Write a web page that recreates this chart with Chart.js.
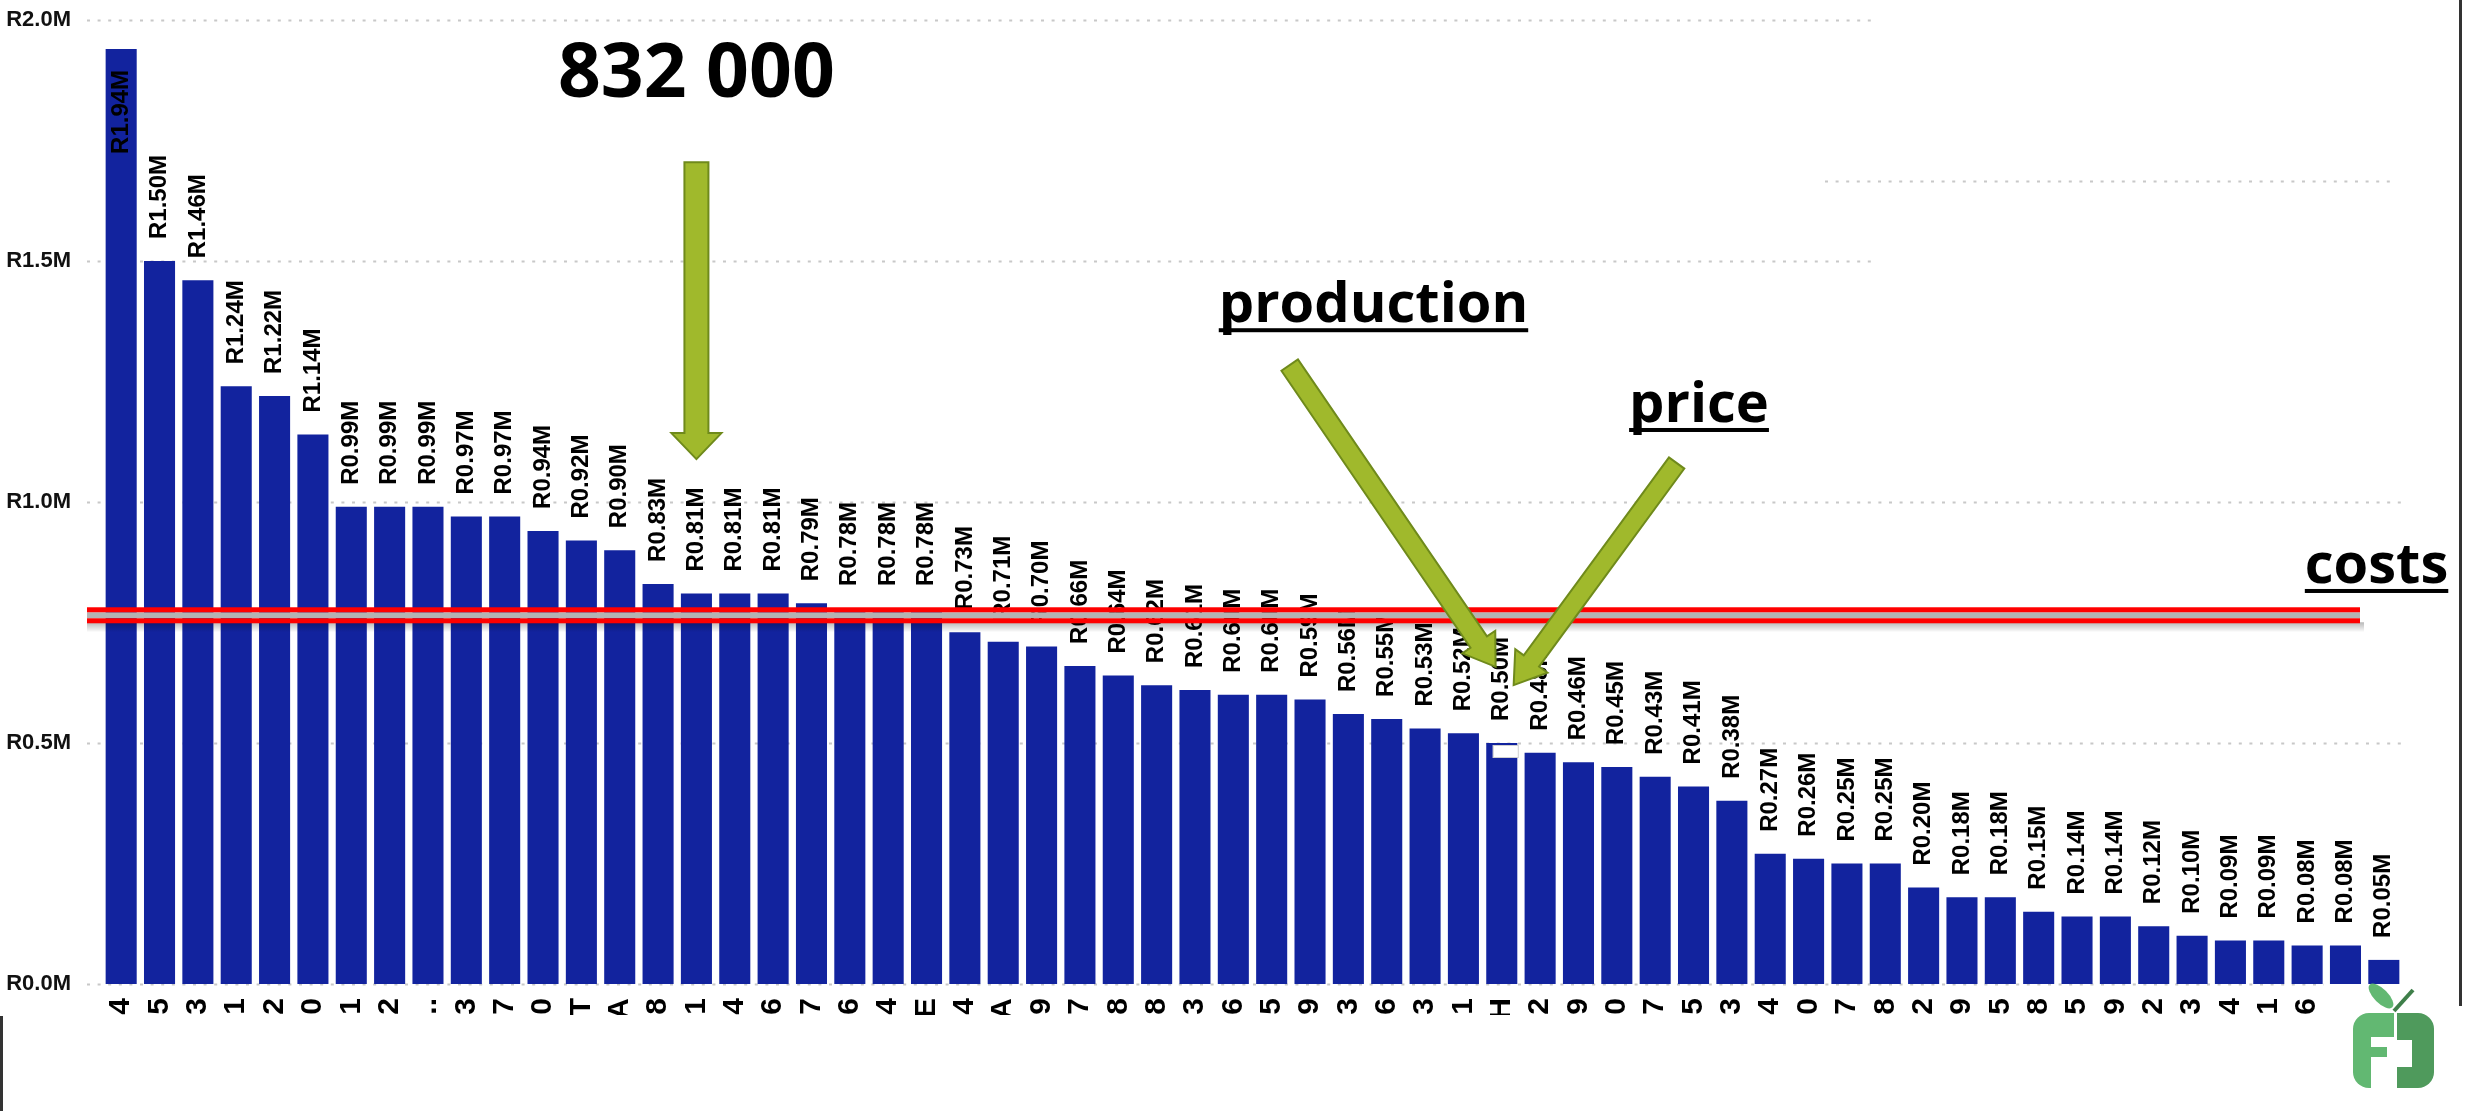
<!DOCTYPE html>
<html>
<head>
<meta charset="utf-8">
<title>Receita por exploração</title>
<script src="https://cdn.jsdelivr.net/npm/chart.js@4.4.0/dist/chart.umd.min.js"></script>
<style>
    html, body { margin: 0; padding: 0; background: #fff; }
    #grafico { display: block; }
</style>
</head>
<body>
<canvas id="grafico" width="2465" height="1111"></canvas>
<script>
// Categorias (só o fim de cada nome fica visível) e valores em milhões de rand
const categorias = ['4', '5', '3', '1', '2', '.0', '1', '2', '..', '3', '7', '0', 'T', 'A', '.8', '1', '4', '6', '7', '6',
    '4', 'E', '4', 'A', '9', '7', '8', '8', '3', '6', '5', '9', '3', '6', '3', '1', 'H', '2', '9', '0',
    '.7', '5', '3', '4', '0', '7', '8', '2', '.9', '5', '8', '.5', '9', '2', '.3', '4', '.1', '6', '', ''];
const valores = [1.94, 1.50, 1.46, 1.24, 1.22, 1.14, 0.99, 0.99, 0.99, 0.97, 0.97, 0.94, 0.92, 0.90, 0.83, 0.81, 0.81, 0.81, 0.79, 0.78,
    0.78, 0.78, 0.73, 0.71, 0.70, 0.66, 0.64, 0.62, 0.61, 0.60, 0.60, 0.59, 0.56, 0.55, 0.53, 0.52, 0.50, 0.48, 0.46, 0.45,
    0.43, 0.41, 0.38, 0.27, 0.26, 0.25, 0.25, 0.20, 0.18, 0.18, 0.15, 0.14, 0.14, 0.12, 0.10, 0.09, 0.09, 0.08, 0.08, 0.05];
const ticksY = [0, 0.5, 1.0, 1.5, 2.0];
const nivelCustos = 0.765;

const FONTE = '"Liberation Sans", Arial, sans-serif';
const FONTE_NOTAS = '"Open Sans", "Noto Sans", sans-serif';

function px(chart, i, v) {
    return [chart.scales.x.getPixelForValue(i), chart.scales.y.getPixelForValue(v)];
}

function desenharSeta(ctx, x1, y1, x2, y2, haste, cabeca, ponta) {
    const dx = x2 - x1, dy = y2 - y1, len = Math.hypot(dx, dy);
    const ux = dx / len, uy = dy / len, nx = -uy, ny = ux;
    const bx = x2 - ux * ponta, by = y2 - uy * ponta;
    ctx.beginPath();
    ctx.moveTo(x1 + nx * haste / 2, y1 + ny * haste / 2);
    ctx.lineTo(bx + nx * haste / 2, by + ny * haste / 2);
    ctx.lineTo(bx + nx * cabeca / 2, by + ny * cabeca / 2);
    ctx.lineTo(x2, y2);
    ctx.lineTo(bx - nx * cabeca / 2, by - ny * cabeca / 2);
    ctx.lineTo(bx - nx * haste / 2, by - ny * haste / 2);
    ctx.lineTo(x1 - nx * haste / 2, y1 - ny * haste / 2);
    ctx.closePath();
    ctx.fill();
    ctx.stroke();
}

// Grelha pontilhada desenhada à mão (os comprimentos variam)
const grelha = {
    id: 'grelha',
    beforeDatasetsDraw(chart) {
        const ctx = chart.ctx;
        const linhas = [
            { v: 2.0, ini: 87, fim: 1878 },
            { v: 1.5, ini: 87, fim: 1877 },
            { v: 1.0, ini: 87, fim: 2405 },
            { v: 0.5, ini: 87, fim: 2405 },
            { v: 0.0, ini: 87, fim: 2324 },
            { v: 1.666, ini: 1825, fim: 2397 }
        ];
        ctx.save();
        ctx.strokeStyle = '#c8c8c8';
        ctx.lineWidth = 2;
        ctx.setLineDash([3, 7.6]);
        linhas.forEach(function (l) {
            const y = Math.round(chart.scales.y.getPixelForValue(l.v)) + 0.5;
            ctx.beginPath();
            ctx.moveTo(l.ini, y);
            ctx.lineTo(l.fim, y);
            ctx.stroke();
        });
        ctx.restore();
    }
};

// Rótulos dos valores, linha de custos, setas e textos
const anotacoes = {
    id: 'anotacoes',
    afterDatasetsDraw(chart) {
        const ctx = chart.ctx;
        const meta = chart.getDatasetMeta(0);

        // 1. Rótulos verticais dos valores
        ctx.save();
        ctx.font = 'bold 24px ' + FONTE;
        ctx.fillStyle = '#000';
        ctx.textBaseline = 'middle';
        meta.data.forEach(function (barra, i) {
            const texto = 'R' + valores[i].toFixed(2) + 'M';
            const w = ctx.measureText(texto).width;
            ctx.save();
            if (barra.y - 22 - w < chart.chartArea.top - 10) {
                ctx.translate(barra.x, barra.y + 21);
                ctx.rotate(-Math.PI / 2);
                ctx.textAlign = 'right';
            } else {
                ctx.translate(barra.x, barra.y - 22);
                ctx.rotate(-Math.PI / 2);
                ctx.textAlign = 'left';
            }
            ctx.fillText(texto, 0, 0);
            ctx.restore();
        });
        ctx.restore();

        // pequeno ícone branco sobre a barra de R0.50M
        const b = meta.data[36];
        ctx.save();
        ctx.fillStyle = '#fff';
        ctx.strokeStyle = '#d0d0d0';
        ctx.lineWidth = 1;
        ctx.fillRect(b.x - 9, b.y + 2, 26, 13);
        ctx.strokeRect(b.x - 8.5, b.y + 2.5, 25, 12);
        ctx.restore();

        // 2. Linha dupla vermelha dos custos
        const yC = chart.scales.y.getPixelForValue(nivelCustos);
        const xIni = 87, xFim = 2360;
        ctx.save();
        const sombra = ctx.createLinearGradient(0, yC + 7, 0, yC + 17);
        sombra.addColorStop(0, 'rgba(0,0,0,0.28)');
        sombra.addColorStop(1, 'rgba(0,0,0,0)');
        ctx.fillStyle = sombra;
        ctx.fillRect(xIni, yC + 7, xFim - xIni + 4, 10);
        ctx.fillStyle = '#b3b3b3';
        ctx.fillRect(xIni, yC - 3, xFim - xIni, 6);
        ctx.fillStyle = '#ff0000';
        ctx.fillRect(xIni, yC - 8, xFim - xIni, 5);
        ctx.fillRect(xIni, yC + 3, xFim - xIni, 5);
        ctx.restore();

        // 3. Setas verdes
        const setas = [
            { de: [15, 1.705], ate: [15, 1.089], haste: 24, cabeca: 50, ponta: 26 },
            { de: [30.47, 1.284], ate: [35.84, 0.658], haste: 20, cabeca: 40, ponta: 30 },
            { de: [40.56, 1.081], ate: [36.31, 0.620], haste: 19, cabeca: 40, ponta: 30 }
        ];
        ctx.save();
        ctx.fillStyle = '#a0b92c';
        ctx.strokeStyle = '#6f8a1b';
        ctx.lineWidth = 2;
        ctx.lineJoin = 'miter';
        setas.forEach(function (s) {
            const p1 = px(chart, s.de[0], s.de[1]);
            const p2 = px(chart, s.ate[0], s.ate[1]);
            desenharSeta(ctx, p1[0], p1[1], p2[0], p2[1], s.haste, s.cabeca, s.ponta);
        });
        ctx.restore();

        // 4. Textos das notas
        const notas = [
            { texto: '832 000', i: 11.39, v: 1.840, tamanho: 75, sublinhado: false },
            { texto: 'production', i: 28.62, v: 1.373, tamanho: 56, sublinhado: true },
            { texto: 'price', i: 39.32, v: 1.166, tamanho: 56, sublinhado: true },
            { texto: 'costs', i: 56.94, v: 0.832, tamanho: 56, sublinhado: true }
        ];
        ctx.save();
        ctx.fillStyle = '#000';
        ctx.textAlign = 'left';
        ctx.textBaseline = 'alphabetic';
        notas.forEach(function (n) {
            const p = px(chart, n.i, n.v);
            ctx.font = 'bold ' + n.tamanho + 'px ' + FONTE_NOTAS;
            ctx.fillText(n.texto, p[0], p[1]);
            if (n.sublinhado) {
                const w = ctx.measureText(n.texto).width;
                ctx.fillRect(p[0], p[1] + 6, w, 4);
            }
        });
        ctx.restore();
    },
    afterDraw(chart) {
        const ctx = chart.ctx;
        ctx.save();
        // recorte por baixo dos nomes das categorias
        ctx.fillStyle = '#fff';
        ctx.fillRect(0, 1015, chart.width, chart.height - 1015);
        // filetes pretos laterais
        ctx.fillStyle = '#333';
        ctx.fillRect(0, 1016, 3, chart.height - 1016);
        ctx.fillRect(2459, 0, 3, 1006);

        // logótipo (maçã com as letras F e J)
        ctx.fillStyle = '#62b872';
        ctx.beginPath();
        ctx.roundRect(2353, 1013, 41, 75, [16, 0, 0, 16]);
        ctx.fill();
        ctx.fillStyle = '#fff';
        ctx.fillRect(2371, 1037, 24, 10);
        ctx.fillRect(2387, 1047, 8, 10);
        ctx.fillRect(2371, 1057, 24, 32);
        ctx.fillStyle = '#4f9a5c';
        ctx.beginPath();
        ctx.roundRect(2397, 1013, 37, 75, [0, 16, 16, 0]);
        ctx.fill();
        ctx.fillStyle = '#fff';
        ctx.fillRect(2396, 1040, 16, 27);
        // folha e pé
        ctx.fillStyle = '#62b872';
        ctx.beginPath();
        ctx.ellipse(2381, 996, 16, 7, Math.PI / 4, 0, Math.PI * 2);
        ctx.fill();
        ctx.strokeStyle = '#3f7f4a';
        ctx.lineWidth = 4;
        ctx.beginPath();
        ctx.moveTo(2394, 1011);
        ctx.lineTo(2413, 990);
        ctx.stroke();
        ctx.restore();
    }
};

Chart.defaults.font.family = FONTE;

const ctxGrafico = document.getElementById('grafico');
new Chart(ctxGrafico.getContext('2d'), {
    type: 'bar',
    data: {
        labels: categorias,
        datasets: [{
            label: 'Receita',
            data: valores,
            backgroundColor: '#12239e',
            borderWidth: 0,
            categoryPercentage: 1.0,
            barPercentage: 0.81
        }]
    },
    options: {
        responsive: false,
        animation: false,
        layout: { padding: { top: 20, right: 62, left: 0, bottom: 0 } },
        plugins: {
            legend: { display: false },
            tooltip: { enabled: false }
        },
        scales: {
            x: {
                grid: { display: false, drawTicks: false },
                border: { display: false },
                ticks: {
                    autoSkip: false,
                    minRotation: 90,
                    maxRotation: 90,
                    padding: 14,
                    color: '#000',
                    font: { size: 30, weight: 'bold' }
                },
                afterFit: function (scale) {
                    scale.height = 127;
                    scale.paddingLeft = 0;
                    scale.paddingRight = 0;
                }
            },
            y: {
                min: 0,
                max: 2.0,
                grid: { display: false, drawTicks: false },
                border: { display: false },
                afterBuildTicks: function (scale) {
                    scale.ticks = ticksY.map(function (v) { return { value: v }; });
                },
                ticks: {
                    padding: 31,
                    color: '#111',
                    font: { size: 22, weight: 'bold' },
                    callback: function (v) { return 'R' + Number(v).toFixed(1) + 'M'; }
                },
                afterFit: function (scale) {
                    scale.width = 102;
                    scale.paddingTop = 0;
                    scale.paddingBottom = 0;
                }
            }
        }
    },
    plugins: [grelha, anotacoes]
});
</script>
</body>
</html>
